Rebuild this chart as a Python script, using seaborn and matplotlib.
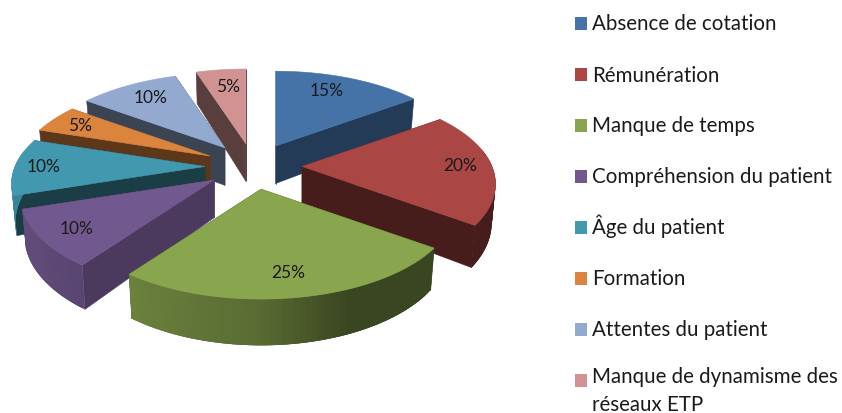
import matplotlib.pyplot as plt
import numpy as np
import seaborn as sns
from matplotlib.patches import Polygon, Rectangle

categories = [
    "Absence de cotation",
    "Rémunération",
    "Manque de temps",
    "Compréhension du patient",
    "Âge du patient",
    "Formation",
    "Attentes du patient",
    "Manque de dynamisme des\nréseaux ETP",
]
values = [15, 20, 25, 10, 10, 5, 10, 5]
hex_colors = ["#4572A7", "#AA4643", "#89A54E", "#71588F", "#4198AF", "#DB843D", "#93A9CF", "#D19392"]

# how dark the cut faces of each slice are, and the order the slices get painted
cut_shade = [0.52, 0.42, 0.42, 0.66, 0.40, 0.42, 0.40, 0.42]
paint_order = [7, 6, 5, 4, 3, 0, 1, 2]
# small pixel shifts of the percent labels
label_nudge = [(-10, 0), (6, -1), (-1, 0), (-3, 2), (-9, 0), (-4, -1), (5, 0), (3, 3)]

# pie geometry, in pixels
CX, CY = 253.5, 167.5
EXPLODE_X, EXPLODE_Y = 48.5, 23
RX, RY = 190, 89
PERSP = 0.19
WALL = 37.5
FONT = "Lato"


def project(x, y, apex):
    s = 1 / (1 + PERSP * y)
    return apex[0] + RX * x * s, apex[1] - RY * y * s


def project_low(x, y, apex):
    # same point on the underside of the slice
    s = 1 / (1 + PERSP * y)
    return apex[0] + 0.98 * RX * x * s, apex[1] - RY * y * s + WALL * s


def wall_shade(x):
    return np.interp(x, [-1, 0, 0.4, 1], [0.88, 0.65, 0.42, 0.42])


def draw_slice(ax, start, stop, color, cut):
    mid = (start + stop) / 2
    apex = (CX + EXPLODE_X * np.sin(mid), CY + -EXPLODE_Y * np.cos(mid))
    angles = np.linspace(start, stop, 60)
    xs, ys = np.sin(angles), np.cos(angles)
    base = np.array(color)
    dark = tuple(base * cut)

    # the two cut faces
    for x, y in [(xs[0], ys[0]), (xs[-1], ys[-1])]:
        corners = [project(0, 0, apex), project(x, y, apex), project_low(x, y, apex), project_low(0, 0, apex)]
        ax.add_patch(Polygon(corners, facecolor=dark, edgecolor=dark, lw=0.4))

    # the outer wall, in thin overlapping strips so the shading runs along it
    for i in range(len(angles) - 1):
        j = min(i + 3, len(angles) - 1)
        corners = [
            project(xs[i], ys[i], apex),
            project(xs[j], ys[j], apex),
            project_low(xs[j], ys[j], apex),
            project_low(xs[i], ys[i], apex),
        ]
        if ys[i] < 0.15 or ys[j] < 0.15:
            shade = tuple(base * wall_shade(xs[i]))
            ax.add_patch(Polygon(corners, facecolor=shade, edgecolor="none", lw=0))

    # top face
    top = [project(0, 0, apex)] + [project(x, y, apex) for x, y in zip(xs, ys)]
    ax.add_patch(Polygon(top, facecolor=color, edgecolor=color, lw=0.4))
    return apex, mid


sns.set_theme(style="white")
plt.rcParams["font.family"] = [FONT, "DejaVu Sans"]

palette = sns.color_palette(hex_colors)
shares = np.array(values) / sum(values)
edges = np.concatenate([[0], np.cumsum(shares)]) * 2 * np.pi

fig = plt.figure(figsize=(8.42, 4.14), dpi=100)
ax = fig.add_axes([0, 0, 1, 1])
ax.set_xlim(0, 842)
ax.set_ylim(414, 0)
ax.axis("off")

label_spots = {}
for idx in paint_order:
    apex, mid = draw_slice(ax, edges[idx], edges[idx + 1], palette[idx], cut_shade[idx])
    label_spots[idx] = project(0.8 * np.sin(mid), 0.8 * np.cos(mid), apex)

for idx in paint_order:
    x, y = label_spots[idx]
    ax.text(x + label_nudge[idx][0], y + label_nudge[idx][1], f"{values[idx]}%", ha="center", va="center",
            fontsize=12.5, color="#1a1a1a")

# legend, one row every 51 px
for row, (name, color) in enumerate(zip(categories, palette)):
    baseline = 30.5 + 51 * row
    ax.add_patch(Rectangle((575, baseline - 12.5), 12, 13, facecolor=color, edgecolor="none"))
    # matplotlib puts the baseline of the last line at y
    ax.text(592, baseline + 24 * name.count("\n"), name, va="baseline", ha="left", fontsize=14.8,
            color="#1a1a1a", linespacing=1.5)

fig.savefig("out.png", dpi=100)
